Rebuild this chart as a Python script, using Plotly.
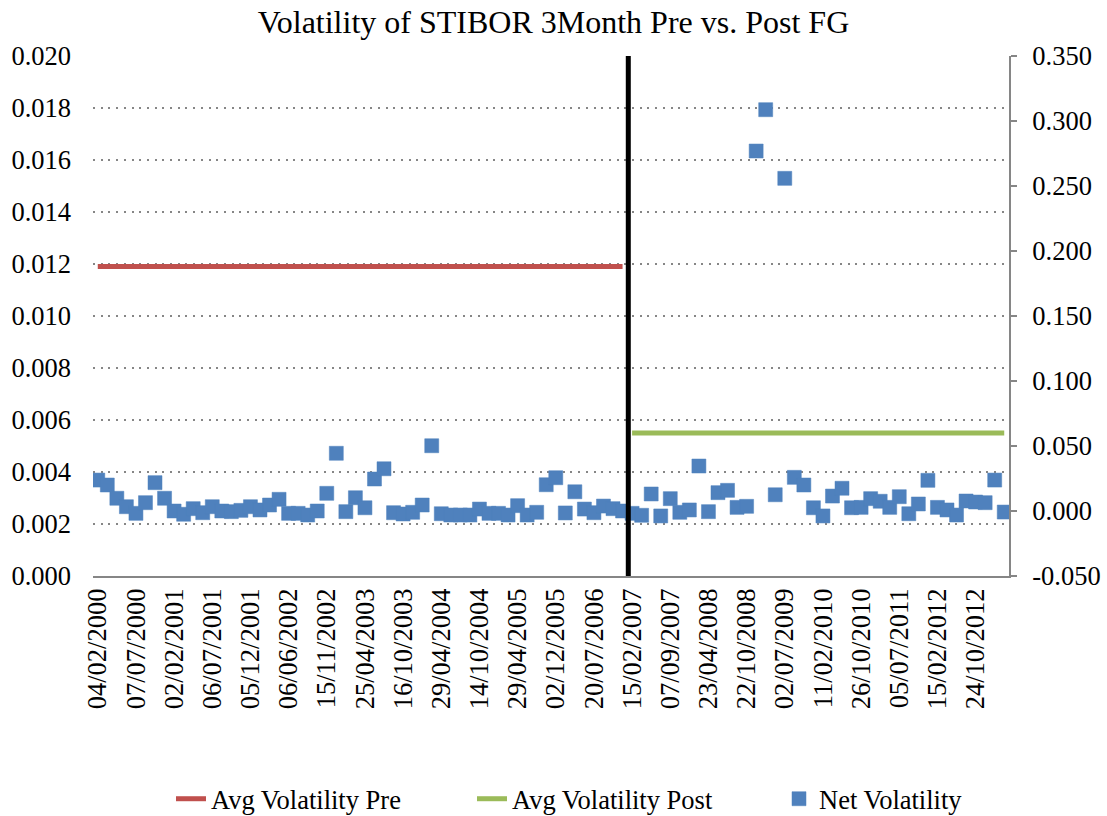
import plotly.graph_objects as go

# Observation index (one point per period) and the dates printed on the axis
period_index = list(range(96))
tick_positions = list(range(0, 96, 4))
tick_labels = [
    "04/02/2000", "07/07/2000", "02/02/2001", "06/07/2001", "05/12/2001",
    "06/06/2002", "15/11/2002", "25/04/2003", "16/10/2003", "29/04/2004",
    "14/10/2004", "29/04/2005", "02/12/2005", "20/07/2006", "15/02/2007",
    "07/09/2007", "23/04/2008", "22/10/2008", "02/07/2009", "11/02/2010",
    "26/10/2010", "05/07/2011", "15/02/2012", "24/10/2012",
]

# Net volatility per period (secondary axis)
net_volatility = [
    0.0238, 0.0200, 0.0098, 0.0033, -0.0018, 0.0064, 0.0218, 0.0098,
    0.0000, -0.0025, 0.0018, -0.0013, 0.0033, 0.0000, -0.0005, 0.0005,
    0.0033, 0.0008, 0.0046, 0.0090, -0.0018, -0.0018, -0.0031, 0.0000,
    0.0136, 0.0444, -0.0005, 0.0102, 0.0025, 0.0246, 0.0325, -0.0013,
    -0.0023, -0.0010, 0.0046, 0.0502, -0.0021, -0.0031, -0.0031, -0.0031,
    0.0015, -0.0018, -0.0018, -0.0031, 0.0041, -0.0031, -0.0010, 0.0202,
    0.0256, -0.0015, 0.0148, 0.0015, -0.0013, 0.0038, 0.0018, 0.0000,
    -0.0018, -0.0033, 0.0131, -0.0038, 0.0095, -0.0010, 0.0008, 0.0346,
    -0.0005, 0.0141, 0.0159, 0.0028, 0.0036, 0.2769, 0.3087, 0.0125,
    0.2559, 0.0259, 0.0200, 0.0025, -0.0038, 0.0115, 0.0175, 0.0025,
    0.0028, 0.0095, 0.0075, 0.0028, 0.0110, -0.0021, 0.0054, 0.0236,
    0.0028, 0.0008, -0.0031, 0.0077, 0.0069, 0.0064, 0.0238, -0.0008,
]

# Average volatility before / after forward guidance (primary axis)
avg_pre = 0.0119
avg_post = 0.0055
pre_span = [0, 55]
post_span = [56, 95]
fg_break = 55.6

left_ticks = [0.000, 0.002, 0.004, 0.006, 0.008, 0.010, 0.012, 0.014, 0.016, 0.018, 0.020]
right_ticks = [-0.050, 0.000, 0.050, 0.100, 0.150, 0.200, 0.250, 0.300, 0.350]
right_tick_text = ["-0.050", "0.000", "0.050", "0.100", "0.150", "0.200", "0.250", "0.300", "0.350"]

FONT = "Liberation Serif"
FS = 26.5
AXIS_GREY = "#868686"

fig = go.Figure()

fig.add_trace(go.Scatter(
    x=pre_span, y=[avg_pre, avg_pre], mode="lines",
    name="Avg Volatility Pre",
    line=dict(color="#C0504D", width=5),
    yaxis="y", legendwidth=256,
))
fig.add_trace(go.Scatter(
    x=post_span, y=[avg_post, avg_post], mode="lines",
    name="Avg Volatility Post",
    line=dict(color="#9BBB59", width=5),
    yaxis="y", legendwidth=262,
))
fig.add_trace(go.Scatter(
    x=period_index, y=net_volatility, mode="markers",
    name="Net Volatility",
    marker=dict(symbol="square", size=14, color="#4F81BD",
                line=dict(color="#4F81BD", width=0.5)),
    yaxis="y2",
))

# Vertical marker at the forward-guidance date
fig.add_shape(type="line", xref="x", yref="paper",
              x0=fg_break, x1=fg_break, y0=0, y1=1,
              line=dict(color="black", width=5), layer="above")

fig.update_layout(
    width=1107, height=816,
    margin=dict(l=93, r=98, t=56, b=240, autoexpand=False),
    paper_bgcolor="white", plot_bgcolor="white",
    font=dict(family=FONT, size=FS, color="black"),
    title=dict(text="Volatility of STIBOR 3Month Pre vs. Post FG",
               font=dict(family=FONT, size=32, color="black"),
               x=0.5, xanchor="center", xref="container",
               y=1 - 22 / 816, yanchor="middle", yref="container"),
    xaxis=dict(
        range=[-0.5, 95.5], automargin=False,
        tickmode="array", tickvals=tick_positions, ticktext=tick_labels,
        tickangle=-90, ticks="", showgrid=False, zeroline=False,
        showline=True, linecolor=AXIS_GREY, linewidth=2,
        ticklabelstandoff=0,
        tickfont=dict(family=FONT, size=FS, color="black"),
    ),
    yaxis=dict(
        range=[0, 0.020], automargin=False,
        tickmode="array", tickvals=left_ticks, tickformat=".3f",
        showgrid=True, gridcolor=AXIS_GREY, gridwidth=2, griddash="2px,5.7px",
        zeroline=False, showline=False, ticks="",
        ticklabelstandoff=21,
        tickfont=dict(family=FONT, size=FS, color="black"),
    ),
    yaxis2=dict(
        range=[-0.05, 0.35], overlaying="y", side="right", automargin=False,
        tickmode="array", tickvals=right_ticks, ticktext=right_tick_text,
        showgrid=False, zeroline=False,
        showline=True, linecolor=AXIS_GREY, linewidth=2,
        ticks="outside", ticklen=6, tickwidth=2, tickcolor=AXIS_GREY,
        ticklabelstandoff=10,
        tickfont=dict(family=FONT, size=FS, color="black"),
    ),
    legend=dict(
        orientation="h",
        xref="container", yref="container",
        x=171 / 1107, xanchor="left",
        y=1 - 799 / 816, yanchor="middle",
        font=dict(family=FONT, size=FS, color="black"),
        bgcolor="rgba(0,0,0,0)",
    ),
    showlegend=True,
)

fig.write_html("out.html")
